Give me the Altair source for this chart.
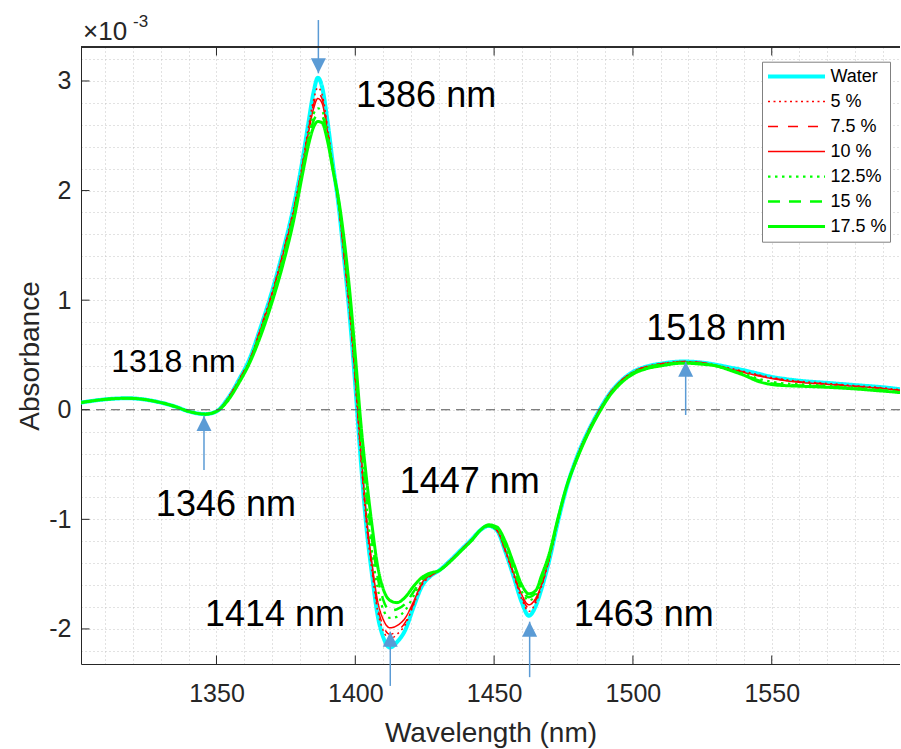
import altair as alt
import pandas as pd

# Wavelength grid (nm) shared by all spectra
WAVELENGTH = [
    1301, 1305, 1310, 1318, 1325, 1330, 1335, 1340, 1346, 1350,
    1354, 1358, 1362, 1366, 1370, 1374, 1378, 1381, 1383, 1385,
    1386.5, 1388, 1390, 1392, 1394, 1396, 1398, 1400, 1402, 1404,
    1406, 1408, 1410, 1412.5, 1415, 1418, 1421, 1424, 1427, 1430,
    1434, 1438, 1442, 1445, 1448, 1451, 1454, 1457, 1460, 1462.5,
    1465, 1467, 1470, 1473, 1476, 1480, 1484, 1488, 1492, 1496,
    1500, 1505, 1510, 1518, 1525, 1530, 1535, 1540, 1545, 1550,
    1555, 1560, 1570, 1580, 1590, 1597,
]

# Absorbance (x 10^-3) for each solution
WATER = [
    0.065, 0.08, 0.095, 0.105, 0.09, 0.065, 0.03, -0.015, -0.04, -0.015,
    0.10, 0.27, 0.47, 0.76, 1.08, 1.45, 1.88, 2.28, 2.60, 2.90,
    3.03, 2.95, 2.63, 2.23, 1.86, 1.37, 0.85, 0.22, -0.47, -1.07,
    -1.50, -1.87, -2.07, -2.17, -2.12, -2.01, -1.80, -1.61, -1.52, -1.47,
    -1.38, -1.28, -1.18, -1.10, -1.06, -1.10, -1.29, -1.52, -1.76, -1.88,
    -1.79, -1.64, -1.36, -1.02, -0.72, -0.42, -0.19, 0.0, 0.16, 0.27,
    0.345, 0.395, 0.42, 0.44, 0.43, 0.41, 0.385, 0.36, 0.33, 0.30,
    0.28, 0.265, 0.245, 0.225, 0.205, 0.185,
]
C5 = [
    0.065, 0.08, 0.095, 0.105, 0.09, 0.065, 0.03, -0.015, -0.04, -0.015,
    0.10, 0.27, 0.46, 0.75, 1.07, 1.44, 1.86, 2.25, 2.56, 2.83,
    2.94, 2.88, 2.58, 2.21, 1.86, 1.38, 0.87, 0.25, -0.44, -1.04,
    -1.47, -1.83, -2.01, -2.09, -2.05, -1.96, -1.78, -1.60, -1.52, -1.47,
    -1.38, -1.28, -1.18, -1.10, -1.06, -1.10, -1.29, -1.51, -1.73, -1.84,
    -1.76, -1.62, -1.35, -1.01, -0.71, -0.42, -0.19, 0.0, 0.16, 0.27,
    0.345, 0.395, 0.42, 0.44, 0.43, 0.405, 0.38, 0.35, 0.32, 0.295,
    0.275, 0.26, 0.24, 0.22, 0.20, 0.18,
]
C7_5 = [
    0.065, 0.08, 0.095, 0.105, 0.09, 0.065, 0.03, -0.015, -0.04, -0.015,
    0.10, 0.27, 0.46, 0.75, 1.06, 1.43, 1.85, 2.24, 2.54, 2.79,
    2.89, 2.84, 2.56, 2.20, 1.87, 1.40, 0.90, 0.27, -0.41, -1.01,
    -1.44, -1.79, -1.97, -2.05, -2.02, -1.94, -1.77, -1.59, -1.52, -1.47,
    -1.38, -1.28, -1.18, -1.10, -1.06, -1.10, -1.28, -1.50, -1.71, -1.81,
    -1.74, -1.61, -1.35, -1.01, -0.71, -0.42, -0.19, 0.0, 0.16, 0.27,
    0.345, 0.395, 0.42, 0.44, 0.43, 0.405, 0.375, 0.345, 0.315, 0.29,
    0.27, 0.255, 0.235, 0.215, 0.195, 0.175,
]
C10 = [
    0.065, 0.08, 0.095, 0.105, 0.09, 0.065, 0.03, -0.015, -0.04, -0.015,
    0.10, 0.26, 0.45, 0.74, 1.05, 1.42, 1.83, 2.22, 2.51, 2.75,
    2.84, 2.80, 2.53, 2.19, 1.87, 1.41, 0.92, 0.30, -0.37, -0.97,
    -1.40, -1.74, -1.91, -1.99, -1.97, -1.90, -1.75, -1.58, -1.51, -1.47,
    -1.38, -1.28, -1.18, -1.10, -1.06, -1.10, -1.28, -1.49, -1.69, -1.78,
    -1.72, -1.60, -1.34, -1.01, -0.71, -0.42, -0.19, 0.0, 0.16, 0.27,
    0.34, 0.39, 0.415, 0.435, 0.425, 0.40, 0.37, 0.34, 0.31, 0.285,
    0.265, 0.25, 0.232, 0.213, 0.193, 0.173,
]
C12_5 = [
    0.065, 0.08, 0.095, 0.105, 0.09, 0.065, 0.03, -0.015, -0.04, -0.015,
    0.09, 0.25, 0.45, 0.72, 1.03, 1.39, 1.81, 2.20, 2.48, 2.70,
    2.75, 2.73, 2.52, 2.20, 1.89, 1.46, 0.97, 0.37, -0.30, -0.87,
    -1.29, -1.62, -1.82, -1.90, -1.89, -1.83, -1.70, -1.56, -1.50, -1.47,
    -1.39, -1.29, -1.19, -1.10, -1.06, -1.09, -1.25, -1.46, -1.66, -1.74,
    -1.69, -1.57, -1.33, -1.00, -0.71, -0.43, -0.20, -0.01, 0.15, 0.26,
    0.335, 0.385, 0.41, 0.43, 0.42, 0.40, 0.365, 0.33, 0.285, 0.255,
    0.24, 0.232, 0.22, 0.202, 0.182, 0.165,
]
C15 = [
    0.065, 0.08, 0.095, 0.105, 0.09, 0.065, 0.03, -0.015, -0.04, -0.015,
    0.09, 0.25, 0.44, 0.71, 1.01, 1.37, 1.79, 2.18, 2.45, 2.64,
    2.69, 2.68, 2.49, 2.19, 1.90, 1.50, 1.01, 0.42, -0.22, -0.76,
    -1.18, -1.52, -1.73, -1.83, -1.82, -1.77, -1.66, -1.55, -1.50, -1.47,
    -1.39, -1.29, -1.19, -1.10, -1.06, -1.09, -1.24, -1.44, -1.64, -1.71,
    -1.67, -1.55, -1.32, -1.00, -0.71, -0.43, -0.20, -0.01, 0.15, 0.26,
    0.335, 0.385, 0.41, 0.43, 0.42, 0.40, 0.36, 0.32, 0.27, 0.24,
    0.228, 0.222, 0.21, 0.195, 0.175, 0.158,
]
C17_5 = [
    0.065, 0.08, 0.095, 0.105, 0.09, 0.065, 0.03, -0.015, -0.04, -0.015,
    0.08, 0.24, 0.43, 0.68, 0.98, 1.33, 1.75, 2.15, 2.40, 2.58,
    2.63, 2.62, 2.45, 2.18, 1.92, 1.55, 1.08, 0.50, -0.12, -0.62,
    -1.05, -1.42, -1.63, -1.74, -1.76, -1.71, -1.61, -1.53, -1.49, -1.47,
    -1.39, -1.29, -1.19, -1.10, -1.05, -1.07, -1.20, -1.40, -1.60, -1.68,
    -1.65, -1.52, -1.30, -0.99, -0.71, -0.44, -0.21, -0.02, 0.14, 0.25,
    0.325, 0.375, 0.40, 0.425, 0.415, 0.40, 0.36, 0.315, 0.26, 0.23,
    0.22, 0.215, 0.205, 0.19, 0.17, 0.155,
]

SERIES = ["Water", "5 %", "7.5 %", "10 %", "12.5%", "15 %", "17.5 %"]
SERIES_VALUES = [WATER, C5, C7_5, C10, C12_5, C15, C17_5]
COLORS = ["#00FFFF", "#FF0000", "#FF0000", "#FF0000", "#00FF00", "#00FF00", "#00FF00"]
DASHES = [[1, 0], [2, 3.5], [10, 10], [1, 0], [2.5, 4.5], [12, 9], [1, 0]]
WIDTHS = [4, 1.5, 1.5, 1.5, 2.2, 2.5, 3]

# Peak / valley annotations
LABEL_TEXT = ["1386 nm", "1318 nm", "1346 nm", "1447 nm", "1414 nm", "1463 nm", "1518 nm"]
LABEL_WL = [1425.5, 1334.5, 1353.4, 1441.2, 1371.1, 1503.9, 1530.0]
LABEL_VAL = [2.863, 0.44, -0.869, -0.659, -1.873, -1.873, 0.737]
LABEL_SIZE = [36, 32, 36, 36, 36, 36, 36]

ARROW_WL = [1386.7, 1345.5, 1412.6, 1462.8, 1519.0]
ARROW_TIP = [3.07, -0.057, -2.025, -1.934, 0.438]
ARROW_TAIL = [3.556, -0.55, -2.52, -2.44, -0.048]
ARROW_DIR = ["down", "up", "up", "up", "up"]

X_TICKS = [1350, 1400, 1450, 1500, 1550]
Y_TICKS = [-2, -1, 0, 1, 2, 3]
X_GRID = list(range(1310, 1600, 10))
Y_GRID = [round(v / 10, 1) for v in range(-22, 34, 2)]

X_DOMAIN = [1301.2, 1596.2]
Y_DOMAIN = [-2.32, 3.31]

W, H = 819, 617
FONT = "Liberation Sans"
INK = "#262626"
BLUE = "#5B9BD5"

rows = []
for name, vals in zip(SERIES, SERIES_VALUES):
    for wl, v in zip(WAVELENGTH, vals):
        rows.append({"series": name, "wl": wl, "val": v})
spectra = pd.DataFrame(rows)

labels = pd.DataFrame({"wl": LABEL_WL, "val": LABEL_VAL, "text": LABEL_TEXT, "fs": LABEL_SIZE})
arrows = pd.DataFrame({"wl": ARROW_WL, "val": ARROW_TIP, "val2": ARROW_TAIL, "dir": ARROW_DIR})

x_axis = alt.Axis(
    values=X_GRID,
    labelExpr="datum.value % 50 == 0 ? format(datum.value, 'd') : ''",
    labelOverlap=False,
    labelFlush=False,
    labelFont=FONT,
    labelFontSize=25,
    labelColor=INK,
    labelPadding=17,
    ticks=False,
    tickSize=0,
    domain=True,
    domainColor=INK,
    domainWidth=1,
    grid=True,
    gridDash=[1, 3],
    gridColor="#c4c4c4",
    gridWidth=1,
    title="Wavelength (nm)",
    titleFont=FONT,
    titleFontSize=28,
    titleFontWeight="normal",
    titleColor=INK,
    titlePadding=13.5,
)
y_axis = alt.Axis(
    values=Y_GRID,
    labelExpr=(
        "abs(datum.value - round(datum.value)) < 0.001 ? "
        "(datum.value < -0.5 ? '-' + format(abs(round(datum.value)), 'd') : format(round(datum.value), 'd')) : ''"
    ),
    labelOverlap=False,
    labelFlush=False,
    labelFont=FONT,
    labelFontSize=25,
    labelColor=INK,
    labelPadding=10,
    ticks=False,
    tickSize=0,
    domain=True,
    domainColor=INK,
    domainWidth=1,
    grid=True,
    gridDash=[1, 3],
    gridColor="#c4c4c4",
    gridWidth=1,
    title="Absorbance",
    titleFont=FONT,
    titleFontSize=28,
    titleFontWeight="normal",
    titleColor=INK,
    titlePadding=4,
)

x_scale = alt.Scale(domain=X_DOMAIN, nice=False, zero=False)
y_scale = alt.Scale(domain=Y_DOMAIN, nice=False, zero=False)
X = alt.X("wl:Q", scale=x_scale, axis=x_axis)
Y = alt.Y("val:Q", scale=y_scale, axis=y_axis)

legend = alt.Legend(
    title=None,
    orient="none",
    legendX=681,
    legendY=14.7,
    symbolType="stroke",
    symbolSize=3249,
    clipHeight=24.8,
    rowPadding=0,
    padding=2.5,
    symbolOffset=1.5,
    labelOffset=3.5,
    labelFont=FONT,
    labelFontSize=18,
    labelColor="black",
    labelLimit=200,
    strokeColor="#808080",
    fillColor="white",
)

lines = alt.Chart(spectra).mark_line(interpolate="monotone", clip=True).encode(
    x=X,
    y=Y,
    color=alt.Color("series:N", scale=alt.Scale(domain=SERIES, range=COLORS), legend=legend),
    strokeDash=alt.StrokeDash("series:N", scale=alt.Scale(domain=SERIES, range=DASHES), legend=legend),
    strokeWidth=alt.StrokeWidth(
        "series:N", scale=alt.Scale(type="ordinal", domain=SERIES, range=WIDTHS), legend=legend
    ),
)

zero_line = alt.Chart(pd.DataFrame({"val": [0.0]})).mark_rule(
    color="#555555", strokeDash=[9, 6], strokeWidth=1.2
).encode(y=Y)

shafts = alt.Chart(arrows).mark_rule(color=BLUE, strokeWidth=1.5).encode(
    x=X, y=Y, y2=alt.Y2("val2:Q")
)
heads_up = alt.Chart(arrows).transform_filter("datum.dir == 'up'").mark_point(
    shape="M0,0L1,2L-1,2Z", size=225, filled=True, color=BLUE, opacity=1
).encode(x=X, y=Y)
heads_down = alt.Chart(arrows).transform_filter("datum.dir == 'down'").mark_point(
    shape="M0,0L1,-2L-1,-2Z", size=225, filled=True, color=BLUE, opacity=1
).encode(x=X, y=Y)

annotations = alt.Chart(labels).mark_text(
    font=FONT, color="black", align="center", baseline="middle"
).encode(x=X, y=Y, text="text:N", size=alt.Size("fs:Q", scale=None, legend=None))

# inward tick marks on the frame
xt = pd.DataFrame({"wl": X_TICKS})
yt = pd.DataFrame({"val": Y_TICKS})
ticks_bottom = alt.Chart(xt).mark_rule(color=INK).encode(x=X, y=alt.value(H), y2=alt.value(H - 8.5))
ticks_top = alt.Chart(xt).mark_rule(color=INK).encode(x=X, y=alt.value(0), y2=alt.value(8.5))
ticks_left = alt.Chart(yt).mark_rule(color=INK).encode(y=Y, x=alt.value(0), x2=alt.value(8.5))
top_edge = alt.Chart(xt).mark_rule(color=INK).encode(x=alt.value(0), x2=alt.value(W), y=alt.value(0))

# axis exponent "x10^-3"
exp_base = alt.Chart(pd.DataFrame({"t": ["\u00d710"]})).mark_text(
    font=FONT, fontSize=26, color=INK, align="left", baseline="alphabetic"
).encode(text="t:N", x=alt.value(2), y=alt.value(-7))
exp_power = alt.Chart(pd.DataFrame({"t": ["-3"]})).mark_text(
    font=FONT, fontSize=17, color=INK, align="left", baseline="alphabetic"
).encode(text="t:N", x=alt.value(52), y=alt.value(-20))

chart = alt.layer(
    lines, zero_line, shafts, heads_up, heads_down, annotations,
    ticks_bottom, ticks_top, ticks_left, top_edge, exp_base, exp_power,
).properties(
    width=W,
    height=H,
    padding={"left": 81, "top": 47, "right": 0, "bottom": 85},
    autosize=alt.AutoSizeParams(type="none"),
    background="white",
).configure_view(stroke=None)

chart.save("out.html", embed_options={"renderer": "svg", "actions": False})
